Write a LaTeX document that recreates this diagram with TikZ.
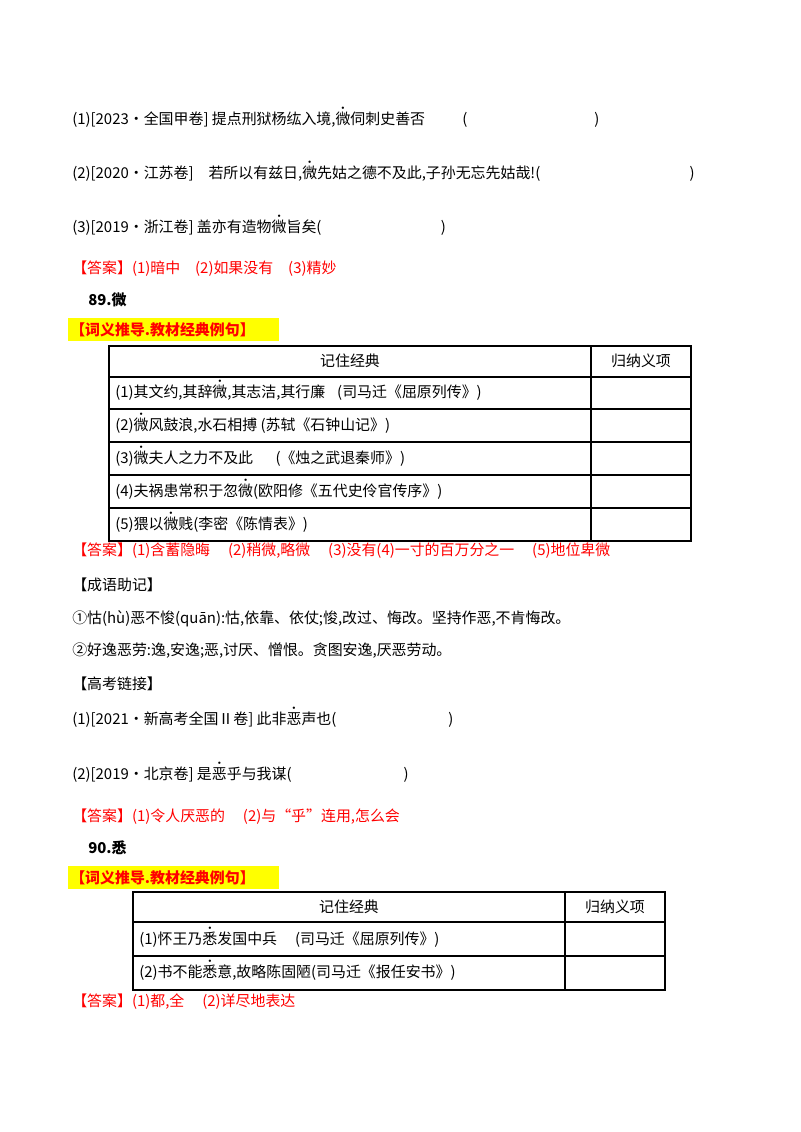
\documentclass[tikz,border=0pt]{standalone}
\usepackage{fontspec}
\setmainfont{Noto Sans CJK SC}
\newcommand\zd[1]{\ooalign{#1\cr\hidewidth\raisebox{0.85em}{\scalebox{0.75}{\textbullet}}\hidewidth\cr}}
\definecolor{ansred}{RGB}{255,0,0}
\definecolor{hlyellow}{RGB}{255,255,0}
\begin{document}
\begin{tikzpicture}[x=0.75pt,y=-0.75pt,
  t/.style={anchor=west,inner sep=0pt,font=\fontsize{11.2}{13}\selectfont},
  ans/.style={t,text=ansred},
  hd/.style={t,font=\fontsize{11.2}{13}\selectfont\bfseries},
  tc/.style={anchor=center,inner sep=0pt,font=\fontsize{11.2}{13}\selectfont},
  tb/.style={line width=1.4pt}]
\useasboundingbox[fill=white] (0,0) rectangle (800,1132);
\node[t] (q1) at (72,120) {(1)[2023·全国甲卷] 提点刑狱杨纮入境,\zd{微}伺刺史善否\hspace{2.5em}(\hspace{8.5em})};
\node[t] (q2) at (72,174) {(2)[2020·江苏卷]\hspace{1em}若所以有兹日,\zd{微}先姑之德不及此,子孙无忘先姑哉!(\hspace{10em})};
\node[t] (q3) at (72,228) {(3)[2019·浙江卷] 盖亦有造物\zd{微}旨矣(\hspace{8em})};
\node[ans] (a1) at (72,269) {【答案】(1)暗中\hspace{1em}(2)如果没有\hspace{1em}(3)精妙};
\node[hd] (h89) at (88,300) {89.微};
\fill[hlyellow] (68,318) rectangle (279,341);
\node[hd,text=ansred] (l1) at (70,330) {【词义推导.教材经典例句】};
% table 1
\draw[tb] (109,346) rectangle (691,541);
\draw[tb] (591,346) -- (591,541);
\foreach \yy in {377,409,442,475,508} \draw[tb] (109,\yy) -- (691,\yy);
\node[tc] (th1) at (350,361) {记住经典};
\node[tc] (th2) at (641,361) {归纳义项};
\node[t] (r1) at (115,393) {(1)其文约,其辞\zd{微},其志洁,其行廉\hspace{0.8em}(司马迁《屈原列传》)};
\node[t] (r2) at (115,426) {(2)\zd{微}风鼓浪,水石相搏 (苏轼《石钟山记》)};
\node[t] (r3) at (115,459) {(3)\zd{微}夫人之力不及此\hspace{1.5em}(《烛之武退秦师》)};
\node[t] (r4) at (115,492) {(4)夫祸患常积于忽\zd{微}(欧阳修《五代史伶官传序》)};
\node[t] (r5) at (115,525) {(5)猥以\zd{微}贱(李密《陈情表》)};
\node[ans] (a2) at (72,551) {【答案】(1)含蓄隐晦\hspace{1.2em}(2)稍微,略微\hspace{1.2em}(3)没有(4)一寸的百万分之一\hspace{1.2em}(5)地位卑微};
\node[t] (cy) at (72,585) {【成语助记】};
\node[t] (c1) at (72,619) {①怙(hù)恶不悛(quān):怙,依靠、依仗;悛,改过、悔改。坚持作恶,不肯悔改。};
\node[t] (c2) at (72,651) {②好逸恶劳:逸,安逸;恶,讨厌、憎恨。贪图安逸,厌恶劳动。};
\node[t] (gk) at (72,684) {【高考链接】};
\node[t] (g1) at (72,720) {(1)[2021·新高考全国Ⅱ卷] 此非\zd{恶}声也(\hspace{7.5em})};
\node[t] (g2) at (72,775) {(2)[2019·北京卷] 是\zd{恶}乎与我谋(\hspace{7.5em})};
\node[ans] (a3) at (72,817) {【答案】(1)令人厌恶的\hspace{1.2em}(2)与“乎”连用,怎么会};
\node[hd] (h90) at (88,848) {90.悉};
\fill[hlyellow] (68,866) rectangle (279,889);
\node[hd,text=ansred] (l2) at (70,878) {【词义推导.教材经典例句】};
% table 2
\draw[tb] (133,892) rectangle (665,990);
\draw[tb] (565,892) -- (565,990);
\foreach \yy in {922,956} \draw[tb] (133,\yy) -- (665,\yy);
\node[tc] (uh1) at (349,907) {记住经典};
\node[tc] (uh2) at (615,907) {归纳义项};
\node[t] (s1) at (139,940) {(1)怀王乃\zd{悉}发国中兵\hspace{1.2em}(司马迁《屈原列传》)};
\node[t] (s2) at (139,973) {(2)书不能\zd{悉}意,故略陈固陋(司马迁《报任安书》)};
\node[ans] (a4) at (72,1002) {【答案】(1)都,全\hspace{1.2em}(2)详尽地表达};
\end{tikzpicture}
\end{document}
